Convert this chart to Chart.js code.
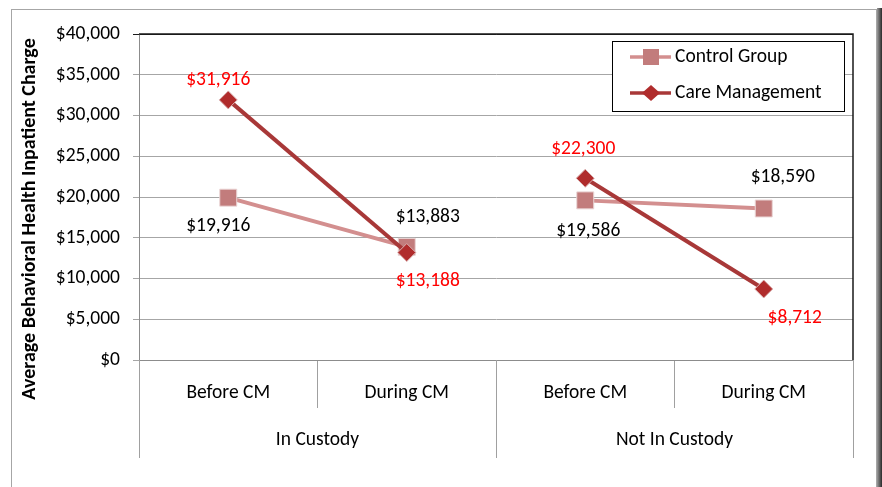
<!DOCTYPE html>
<html>
<head>
<meta charset="utf-8">
<script src="https://cdn.jsdelivr.net/npm/chart.js@4/dist/chart.umd.min.js"></script>
<style>
  html, body { margin: 0; padding: 0; background: #fff; overflow: hidden; }
  #frame { position: absolute; left: 11px; top: 9px; width: 864px; height: 500px; border: 1px solid #a6a6a6; }
  #shadow { position: absolute; left: 877px; top: 8px; width: 5px; height: 490px; background: linear-gradient(to right, #9a9a9a, #2a2a2a); }
  #wrap { position: absolute; left: 0; top: 0; width: 882px; height: 487px; }
</style>
</head>
<body>
<div id="frame"></div>
<div id="shadow"></div>
<div id="wrap"><canvas id="chart"></canvas></div>
<script>
// chart data
const categories = ['Before CM', 'During CM', 'Before CM', 'During CM'];
const groups = ['In Custody', 'Not In Custody'];
const controlGroup = [19916, 13883, 19586, 18590];
const careManagement = [31916, 13188, 22300, 8712];
const yMax = 40000;
const yStep = 5000;

const FONT = '"Carlito", "Noto Sans", sans-serif';
const FS = 19.5;
const CG_LINE = '#d38f8f';
const CG_POINT = '#c27c7c';
const CM_LINE = '#a83838';
const CM_POINT = '#b02c2c';

// label nudges (px) so they sit where the original put them
const cgOffsets = [[-10, 28], [21, -30], [3, 31], [19, -31]];
const cmOffsets = [[-10, -20], [21, 29], [-2, -29], [31, 29]];

const money = (v) => '$' + v.toLocaleString('en-US');

// hide the segment that would join the two custody groups
const segmentColor = (color) => (ctx) =>
  Math.floor(ctx.p0DataIndex / 2) !== Math.floor(ctx.p1DataIndex / 2) ? 'rgba(0,0,0,0)' : color;

const decorPlugin = {
  id: 'decor',
  afterDraw(chart) {
    const { ctx, chartArea: a, scales: { x } } = chart;
    const catW = x.width / categories.length;
    ctx.save();

    // dark top/right border of the plot area
    ctx.strokeStyle = '#1a1a1a';
    ctx.lineWidth = 1.5;
    ctx.beginPath();
    ctx.moveTo(a.left, a.top);
    ctx.lineTo(a.right, a.top);
    ctx.lineTo(a.right, a.bottom);
    ctx.stroke();

    // group dividers and group labels
    ctx.strokeStyle = '#a0a0a0';
    ctx.lineWidth = 1;
    ctx.fillStyle = '#000';
    ctx.font = FS + 'px ' + FONT;
    ctx.textAlign = 'center';
    ctx.textBaseline = 'middle';
    groups.forEach((g, gi) => {
      const left = x.getPixelForValue(gi * 2) - catW / 2;
      const right = x.getPixelForValue(gi * 2 + 1) + catW / 2;
      [left, right].forEach((px) => {
        ctx.beginPath();
        ctx.moveTo(Math.round(px) + 0.5, a.bottom);
        ctx.lineTo(Math.round(px) + 0.5, a.bottom + 98);
        ctx.stroke();
      });
      ctx.fillText(g, (left + right) / 2, a.bottom + 80);
    });

    // data labels
    const drawLabels = (di, offs, color) => {
      const meta = chart.getDatasetMeta(di);
      ctx.fillStyle = color;
      meta.data.forEach((pt, i) => {
        const v = chart.data.datasets[di].data[i];
        ctx.fillText(money(v), pt.x + offs[i][0], pt.y + offs[i][1]);
      });
    };
    drawLabels(0, cgOffsets, '#000');
    drawLabels(1, cmOffsets, '#ff0000');

    // y-axis title
    ctx.save();
    ctx.translate(30, 219);
    ctx.rotate(-Math.PI / 2);
    ctx.fillStyle = '#000';
    ctx.font = 'bold 20px ' + FONT;
    ctx.fillText('Average Behavioral Health Inpatient Charge', 0, 0);
    ctx.restore();

    // legend box
    const lx = 612, ly = 41, lw = 232, lh = 70;
    ctx.fillStyle = '#fff';
    ctx.fillRect(lx, ly, lw, lh);
    ctx.strokeStyle = '#000';
    ctx.lineWidth = 1;
    ctx.strokeRect(lx + 0.5, ly + 0.5, lw, lh);
    const rows = [
      { y: 57, line: CG_LINE, fill: CG_POINT, label: chart.data.datasets[0].label, shape: 'rect' },
      { y: 93, line: CM_LINE, fill: CM_POINT, label: chart.data.datasets[1].label, shape: 'diamond' },
    ];
    rows.forEach((r) => {
      ctx.strokeStyle = r.line;
      ctx.lineWidth = 3.5;
      ctx.beginPath();
      ctx.moveTo(630, r.y);
      ctx.lineTo(671, r.y);
      ctx.stroke();
      ctx.fillStyle = r.fill;
      ctx.beginPath();
      if (r.shape === 'rect') {
        ctx.rect(643, r.y - 8, 16, 16);
      } else {
        ctx.moveTo(651, r.y - 8);
        ctx.lineTo(660, r.y);
        ctx.lineTo(651, r.y + 8);
        ctx.lineTo(642, r.y);
        ctx.closePath();
      }
      ctx.fill();
      ctx.fillStyle = '#000';
      ctx.font = FS + 'px ' + FONT;
      ctx.textAlign = 'left';
      ctx.fillText(r.label, 675, r.y);
    });

    ctx.restore();
  },
};

new Chart(document.getElementById('chart'), {
  type: 'line',
  data: {
    labels: categories,
    datasets: [
      {
        label: 'Control Group',
        data: controlGroup,
        order: 1,
        borderColor: CG_LINE,
        borderWidth: 4,
        segment: { borderColor: segmentColor(CG_LINE) },
        pointStyle: 'rect',
        pointRadius: 12,
        pointBackgroundColor: CG_POINT,
        pointBorderColor: '#ead6d6',
        pointBorderWidth: 1,
        tension: 0,
      },
      {
        label: 'Care Management',
        data: careManagement,
        order: 0,
        borderColor: CM_LINE,
        borderWidth: 4,
        segment: { borderColor: segmentColor(CM_LINE) },
        pointStyle: 'rectRot',
        pointRadius: 9,
        pointBackgroundColor: CM_POINT,
        pointBorderColor: '#d9b0b0',
        pointBorderWidth: 1,
        tension: 0,
      },
    ],
  },
  options: {
    responsive: true,
    maintainAspectRatio: false,
    animation: false,
    events: [],
    layout: { padding: { left: 0, right: 29, top: 34, bottom: 0 } },
    plugins: { legend: { display: false }, tooltip: { enabled: false } },
    scales: {
      x: {
        offset: true,
        afterFit: (s) => { s.height = 127; },
        grid: { offset: true, drawOnChartArea: false, drawTicks: true, tickLength: 48, color: '#a0a0a0' },
        border: { color: '#8c8c8c' },
        ticks: { color: '#000', font: { family: FONT, size: FS }, padding: -27, maxRotation: 0, autoSkip: false },
      },
      y: {
        min: 0,
        max: yMax,
        afterFit: (s) => { s.width = 139; },
        grid: {
          color: (c) => (c.tick && c.tick.value === yMax ? '#1a1a1a' : '#a6a6a6'),
          tickLength: 6,
        },
        border: { color: '#8c8c8c' },
        ticks: { stepSize: yStep, color: '#000', padding: 13, font: { family: FONT, size: FS }, callback: (v) => money(v) },
      },
    },
  },
  plugins: [decorPlugin],
});
</script>
</body>
</html>
